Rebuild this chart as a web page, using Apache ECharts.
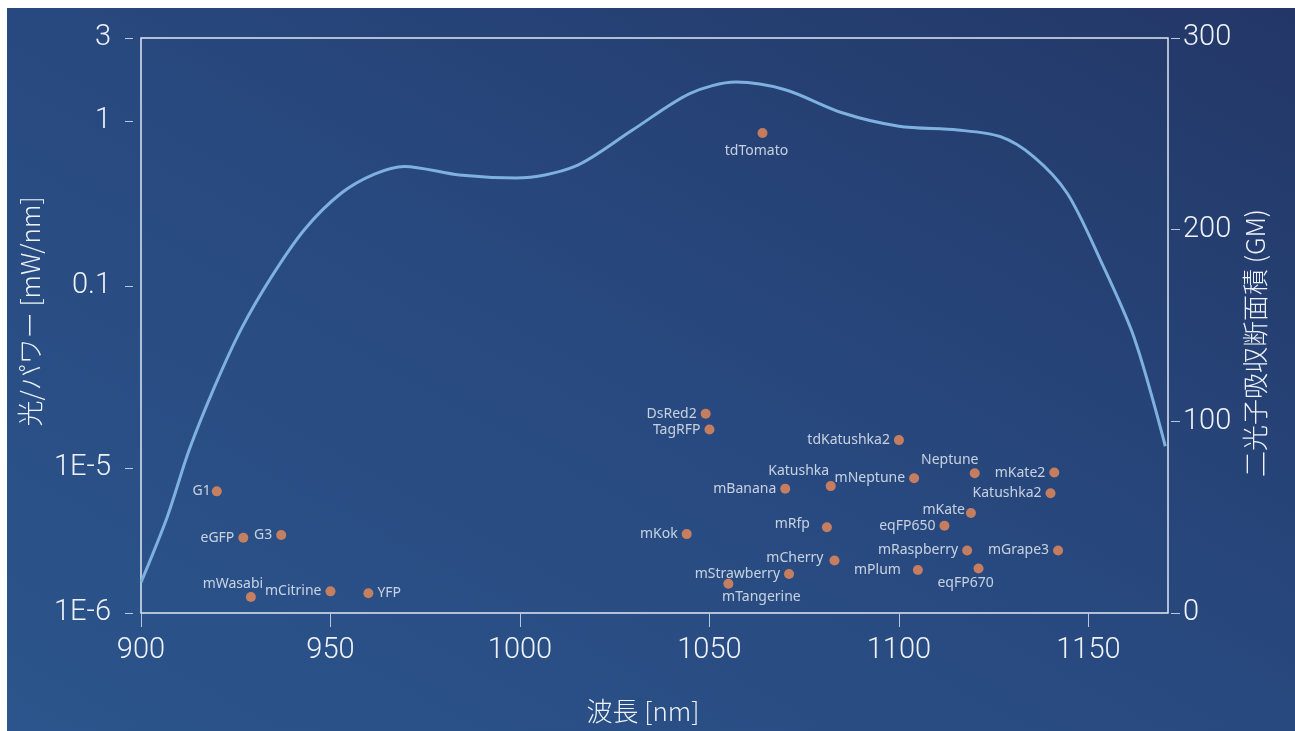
<!DOCTYPE html>
<html>
<head>
<meta charset="utf-8">
<script src="https://cdn.jsdelivr.net/npm/echarts@6/dist/echarts.min.js"></script>
<style>
  html, body { margin: 0; padding: 0; background: #ffffff; }
  #wrap { position: absolute; left: 0; top: 0; width: 1295px; height: 731px; background: #ffffff; }
  #chart { position: absolute; left: 7px; top: 8px; width: 1288px; height: 723px;
    background: linear-gradient(to top right, #2b558c 0%, #28497f 50%, #233767 100%); }
</style>
</head>
<body>
<div id="wrap"><div id="chart"></div></div>
<script>
// ---- Data ----
// Two-photon absorption cross-section curve (wavelength nm, GM)
const curveWavelength = [900, 906.9, 912.7, 919.4, 926.4, 934.3, 943.1, 952.8, 961.6, 969.5, 984, 999, 1014.5, 1029.7, 1044.8, 1057, 1070, 1085, 1100, 1115.5, 1126.8, 1135.6, 1144.4, 1153.2, 1162, 1170.3];
const curveGM = [16, 50, 85, 118, 148, 175, 200, 219, 229, 233, 228.5, 227, 233, 252, 271, 277, 273, 261, 254, 252, 248.5, 238, 219, 184, 144, 87];

// Fluorescent proteins: name, peak wavelength (nm), optical power (mW/nm)
const proteinNames = ['G1', 'eGFP', 'G3', 'mWasabi', 'mCitrine', 'YFP', 'DsRed2', 'TagRFP', 'tdKatushka2', 'Katushka', 'mNeptune', 'mBanana', 'mKok', 'mRfp', 'mCherry', 'mStrawberry', 'mTangerine', 'mPlum', 'Neptune', 'mKate2', 'Katushka2', 'mKate', 'eqFP650', 'mRaspberry', 'mGrape3', 'eqFP670', 'tdTomato'];
const proteinWavelength = [920, 927, 937, 929, 950, 960, 1049, 1050, 1100, 1082, 1104, 1070, 1044, 1081, 1083, 1071, 1055, 1105, 1120, 1141, 1140, 1119, 1112, 1118, 1142, 1121, 1064];
const proteinPower = [6.9e-6, 3.3e-6, 3.45e-6, 1.29e-6, 1.41e-6, 1.37e-6, 1.56e-4, 7.0e-5, 4.1e-5, 7.5e-6, 8.5e-6, 7.2e-6, 3.5e-6, 3.9e-6, 2.3e-6, 1.86e-6, 1.59e-6, 1.98e-6, 9.2e-6, 9.3e-6, 6.7e-6, 4.9e-6, 4.0e-6, 2.7e-6, 2.7e-6, 2.03e-6, 0.845];

// Left axis (broken log scale) tick values and labels
const powerTicks = [1e-6, 1e-5, 0.1, 1, 3];
const powerTickLabels = ['1E-6', '1E-5', '0.1', '1', '3'];
// Right axis ticks
const gmTicks = [0, 100, 200, 300];
// X ticks
const wavelengthTicks = [900, 950, 1000, 1050, 1100, 1150];

// ---- Scale definition for the broken left axis ----
const axisStops = [0, 145, 327, 492, 575];  // internal axis units at each power tick
function powerToAxis(p) {
  const lp = Math.log10(p);
  const lt = powerTicks.map(Math.log10);
  for (let i = 0; i < lt.length - 1; i++) {
    if (lp <= lt[i + 1] || i === lt.length - 2) {
      const f = (lp - lt[i]) / (lt[i + 1] - lt[i]);
      return axisStops[i] + f * (axisStops[i + 1] - axisStops[i]);
    }
  }
}

// Label placement per protein (style only)
const labelStyleByName = {
  'YFP': { position: 'right', distance: 4 },
  'mWasabi': { position: 'top', distance: 1, offset: [-18, 0] },
  'Katushka': { position: 'top', distance: 3, offset: [-32, 0] },
  'Neptune': { position: 'top', distance: 1, offset: [-25, 0] },
  'mTangerine': { position: 'bottom', distance: 1, offset: [33, 0] },
  'eqFP670': { position: 'bottom', distance: 3, offset: [-13, 0] },
  'tdTomato': { position: 'bottom', distance: 6, offset: [-6, 0] },
  'mRfp': { position: 'left', distance: 12, offset: [0, -3] },
  'mPlum': { position: 'left', distance: 12, offset: [0, 0] },
  'mCherry': { position: 'left', distance: 6, offset: [0, -3] },
  'mKate': { position: 'left', distance: 1, offset: [0, -3] },
  'G1': { position: 'left', distance: 1 }
};

const curveData = curveWavelength.map((w, i) => [w, curveGM[i]]);
const pointData = proteinNames.map((n, i) => {
  const ls = labelStyleByName[n] || { position: 'left', distance: 4 };
  return {
    name: n,
    value: [proteinWavelength[i], powerToAxis(proteinPower[i])],
    label: Object.assign({ show: true }, ls)
  };
});

const axisFont = { fontFamily: 'Roboto, "Noto Sans", sans-serif', fontWeight: 300, fontSize: 29, color: '#eef2f8' };
const titleFont = { fontFamily: '"Noto Sans CJK JP", sans-serif', fontWeight: 300, fontSize: 26, color: '#eef2f8' };

const chart = echarts.init(document.getElementById('chart'), null, { renderer: 'canvas' });
chart.setOption({
  backgroundColor: 'transparent',
  animation: false,
  grid: { left: 134, top: 30, width: 1027, height: 575, show: true, borderColor: '#dfe7f2', borderWidth: 1.5, backgroundColor: 'transparent' },
  xAxis: {
    type: 'value', min: 900, max: 1171,
    offset: 6,
    axisLine: { show: false },
    axisTick: { show: true, length: 14, customValues: wavelengthTicks, lineStyle: { color: '#b9c8de', width: 1 } },
    axisLabel: Object.assign({ margin: 17, customValues: wavelengthTicks, formatter: function (v) { return String(v); } }, axisFont),
    splitLine: { show: false },
    name: '波長 [nm]', nameLocation: 'middle', nameGap: 79,
    nameTextStyle: Object.assign({ padding: [0, 23, 0, 0] }, titleFont)
  },
  yAxis: [{
    type: 'value', min: 0, max: 575, position: 'left',
    offset: 8,
    axisLine: { show: false },
    axisTick: { show: true, length: 8, customValues: axisStops, lineStyle: { color: '#b9c8de', width: 1 } },
    axisLabel: Object.assign({
      margin: 22,
      customValues: axisStops,
      formatter: function (v) { const i = axisStops.indexOf(v); return i >= 0 ? powerTickLabels[i] : ''; }
    }, axisFont),
    splitLine: { show: false },
    name: '光/パワー [mW/nm]', nameLocation: 'middle', nameRotate: 90, nameGap: 85,
    nameTextStyle: Object.assign({ padding: [0, 0, 0, 28] }, titleFont)
  }, {
    type: 'value', min: 0, max: 300, position: 'right',
    offset: 3,
    axisLine: { show: false },
    axisTick: { show: true, length: 9, customValues: gmTicks, lineStyle: { color: '#b9c8de', width: 1 } },
    axisLabel: Object.assign({ margin: 12, customValues: gmTicks, formatter: function (v) { return String(v); } }, axisFont),
    splitLine: { show: false },
    name: '二光子吸収断面積 (GM)', nameLocation: 'middle', nameRotate: 90, nameGap: 71,
    nameTextStyle: Object.assign({ padding: [0, 35, 0, 0] }, titleFont)
  }],
  series: [{
    type: 'line', yAxisIndex: 1, data: curveData, smooth: 0.3, showSymbol: false,
    lineStyle: { color: '#7eb1df', width: 3 }, z: 2
  }, {
    type: 'scatter', yAxisIndex: 0, data: pointData, symbolSize: 10,
    itemStyle: { color: '#ec8b57' },
    label: {
      show: true, formatter: '{b}', fontSize: 14, color: '#eef2f8',
      fontFamily: '"Noto Sans", "Open Sans", sans-serif'
    },
    z: 3
  }]
});
</script>
</body>
</html>
